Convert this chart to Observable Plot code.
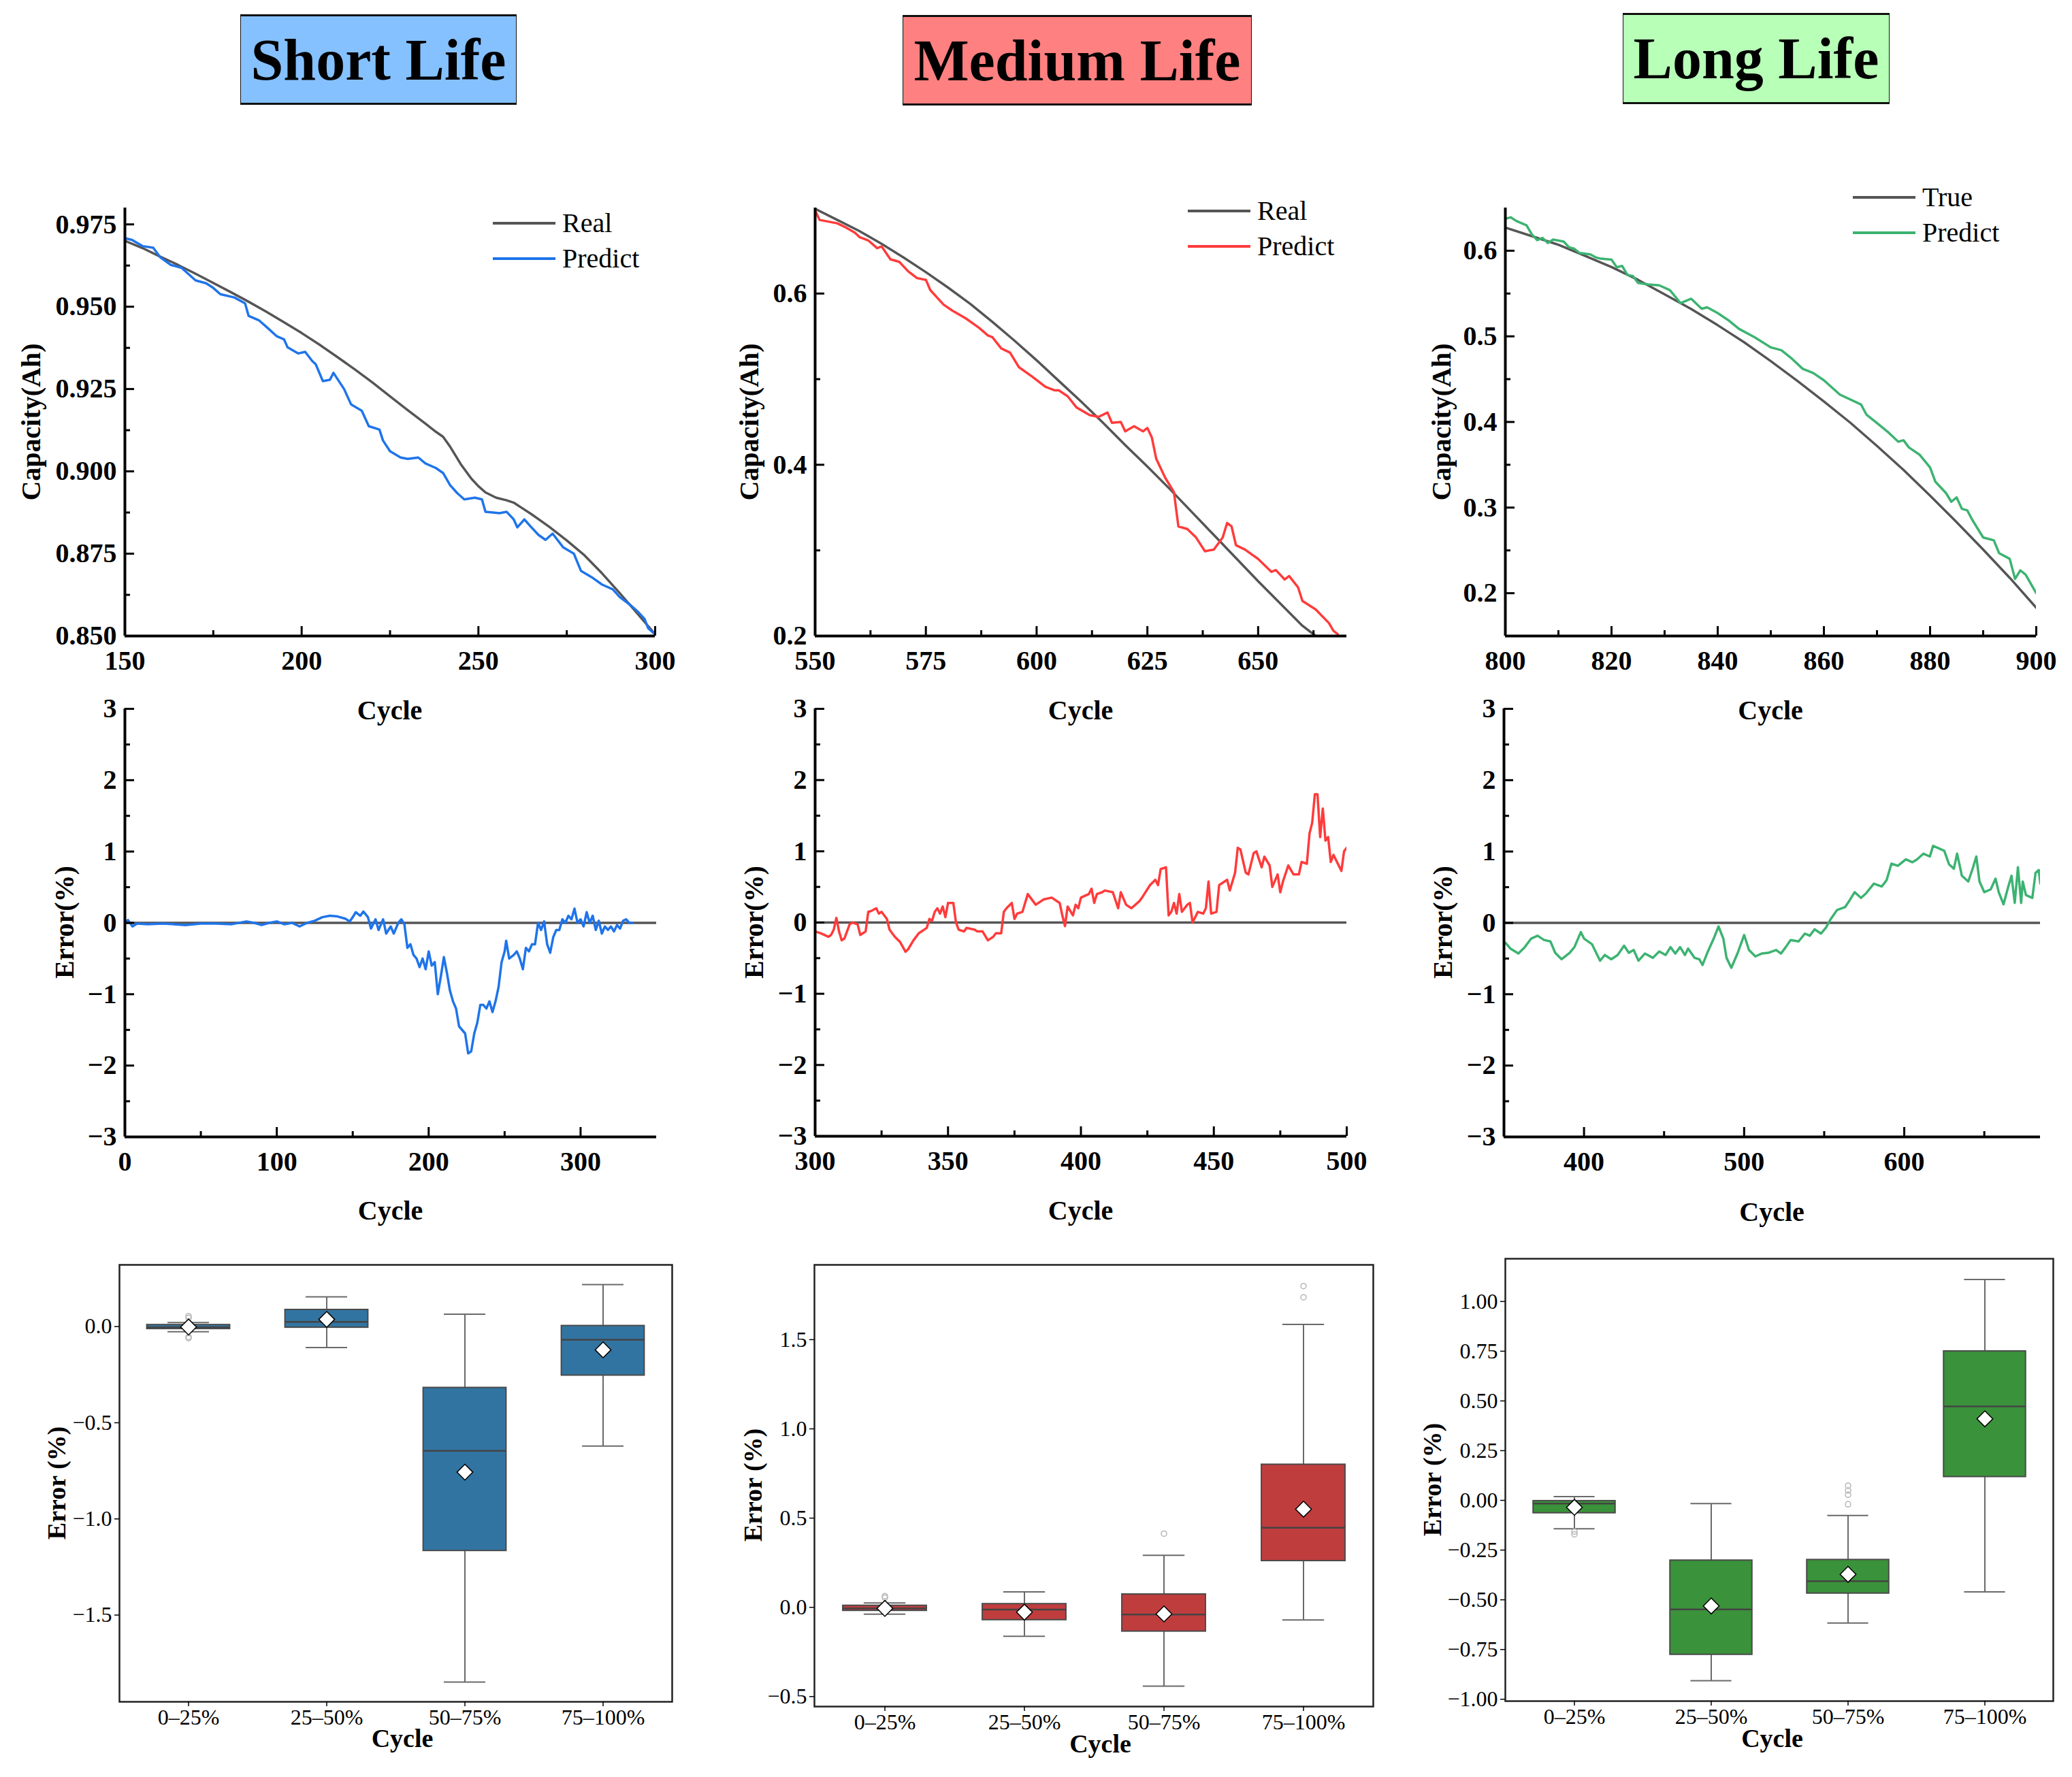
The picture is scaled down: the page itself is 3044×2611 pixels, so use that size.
<!DOCTYPE html>
<html>
<head>
<meta charset="utf-8">
<script src="https://cdn.jsdelivr.net/npm/d3@7"></script>
<script src="https://cdn.jsdelivr.net/npm/@observablehq/plot@0.6"></script>
<style>
  body { margin: 0; background: #fff; }
  #fig { position: relative; width: 3044px; height: 2611px; background: #fff; overflow: hidden;
         font-family: "Liberation Serif", "Times New Roman", serif; color: #000; }
  #fig svg { position: absolute; overflow: visible; }
  .title { position: absolute; box-sizing: border-box; border: 1.5px solid #111; border-top-width: 3px; border-bottom-width: 3px;
           display: flex; align-items: center; justify-content: center; font-weight: bold; font-size: 86px; }
  .lab { position: absolute; white-space: nowrap; transform: translate(-50%, -50%); font-weight: bold; font-size: 40px; line-height: 1; }
  .rot { transform: translate(-50%, -50%) rotate(-90deg); }
  .leg { position: absolute; display: flex; align-items: center; font-size: 40px; line-height: 1; transform: translateY(-50%); }
  .leg span.sw { display: inline-block; width: 92px; height: 4px; margin-right: 10px; }
</style>
</head>
<body>
<div id="fig"></div>
<script>
// ---------- Capacity curves ----------
const shortRealCycle = [150,155,160,165,170,175,180,185,190,195,200,205,210,215,220,225,230,235,238,240,242,245,248,250,252,255,258,260,265,270,275,280,285,290,295,300];
const shortRealCap = [0.9700,0.9678,0.9652,0.9627,0.9600,0.9572,0.9544,0.9515,0.9485,0.9453,0.9420,0.9385,0.9348,0.9310,0.9270,0.9228,0.9186,0.9145,0.9120,0.9105,0.9075,0.9022,0.8978,0.8955,0.8936,0.8920,0.8912,0.8905,0.8870,0.8832,0.8790,0.8745,0.8690,0.8630,0.8568,0.8505];
const shortPredCycle = [150,152,155,158,160,163,166,170,173,175,177,181,184,185,188,190,193,195,196,199,201,203,204,206,208,209,212,214,217,219,222,223,225,228,230,233,235,238,240,242,244,246,249,251,252,256,258,260,261,263,265,267,269,271,274,277,279,282,285,288,290,293,295,297,298,300];
const shortPredCap = [0.9708,0.9703,0.9684,0.9679,0.9650,0.9627,0.9618,0.9580,0.9571,0.9557,0.9538,0.9528,0.9510,0.9472,0.9458,0.9439,0.9410,0.9401,0.9377,0.9358,0.9363,0.9335,0.9325,0.9274,0.9278,0.9299,0.9250,0.9203,0.9184,0.9137,0.9127,0.9094,0.9061,0.9042,0.9038,0.9042,0.9024,0.9010,0.8995,0.8958,0.8934,0.8915,0.8920,0.8915,0.8877,0.8873,0.8877,0.8854,0.8830,0.8854,0.8830,0.8807,0.8792,0.8811,0.8769,0.8750,0.8698,0.8679,0.8656,0.8642,0.8618,0.8594,0.8575,0.8552,0.8524,0.8505];

const mediumRealCycle = [550,555,560,565,570,575,580,585,590,595,600,605,610,615,620,625,630,635,640,645,650,655,660,663];
const mediumRealCap = [0.699,0.686,0.673,0.658,0.642,0.625,0.607,0.588,0.567,0.545,0.522,0.498,0.474,0.449,0.423,0.398,0.372,0.345,0.318,0.291,0.264,0.238,0.212,0.200];
const mediumPredCycle = [550,551,555,557,559,560,562,564,565,567,569,571,573,575,576,579,581,584,587,589,590,592,594,596,599,602,604,605,607,609,612,614,616,617,619,620,622,624,625,626,627,629,631,632,634,636,638,640,642,643,644,645,647,650,653,654,656,657,659,660,663,666,667,668];
const mediumPredCap = [0.697,0.686,0.682,0.677,0.671,0.666,0.662,0.653,0.655,0.640,0.637,0.626,0.618,0.616,0.604,0.587,0.580,0.571,0.560,0.551,0.549,0.536,0.531,0.514,0.503,0.491,0.487,0.487,0.480,0.467,0.458,0.456,0.461,0.449,0.450,0.439,0.445,0.439,0.443,0.432,0.407,0.385,0.368,0.328,0.325,0.315,0.299,0.301,0.315,0.332,0.328,0.306,0.301,0.290,0.275,0.277,0.266,0.270,0.257,0.241,0.231,0.215,0.206,0.202];

const longTrueCycle = [800,805,810,815,820,825,830,835,840,845,850,855,860,865,870,875,880,885,890,895,900];
const longTrueCap = [0.627,0.617,0.607,0.594,0.581,0.566,0.549,0.532,0.513,0.493,0.471,0.448,0.424,0.399,0.372,0.344,0.314,0.283,0.251,0.218,0.183];
const longPredCycle = [800,801,802,804,805,806,807,808,809,811,812,813,814,816,817,818,820,821,822,823,824,825,827,829,831,833,835,837,838,840,842,844,847,850,852,854,856,858,860,863,867,868,870,872,874,875,876,878,880,881,883,884,885,886,887,888,890,892,893,895,896,897,898,900];
const longPredCap = [0.6374,0.6390,0.6350,0.6297,0.6190,0.6124,0.6150,0.6090,0.6130,0.6107,0.6040,0.6023,0.5973,0.5957,0.5923,0.5907,0.5896,0.5806,0.5823,0.5716,0.5706,0.5623,0.5606,0.5596,0.5539,0.5389,0.5439,0.5322,0.5339,0.5272,0.5189,0.5088,0.4988,0.4871,0.4838,0.4738,0.4621,0.4571,0.4487,0.4320,0.4204,0.4087,0.3987,0.3886,0.3770,0.3786,0.3703,0.3619,0.3469,0.3302,0.3169,0.3068,0.3118,0.2985,0.2968,0.2851,0.2651,0.2618,0.2468,0.2401,0.2167,0.2267,0.2217,0.2000];

// ---------- Relative error curves (%) ----------
const shortErrCycle = [0,2,5,8,15,25,40,50,60,70,80,85,90,95,100,105,110,115,120,125,130,135,140,145,148,150,152,155,157,160,162,165,167,170,172,175,177,180,182,184,186,188,190,192,194,196,198,200,202,204,206,208,210,212,214,216,218,220,222,224,226,228,230,232,234,236,238,240,242,244,246,248,250,251,253,256,258,260,262,264,266,268,270,272,274,276,278,280,282,284,286,288,290,292,294,296,298,300,302,304,306,308,310,312,314,316,318,320,322,324,326,328,330,332,334];
const shortErr = [0.00,0.04,-0.05,-0.01,-0.02,-0.01,-0.03,-0.01,-0.01,-0.02,0.02,0.00,-0.03,0.00,0.02,-0.02,0.00,-0.05,0.00,0.03,0.08,0.10,0.09,0.06,0.02,0.08,0.15,0.10,0.16,0.08,-0.08,0.05,-0.10,0.05,-0.15,-0.05,-0.15,0.00,0.05,-0.02,-0.35,-0.30,-0.45,-0.50,-0.62,-0.50,-0.65,-0.40,-0.60,-0.55,-1.00,-0.75,-0.48,-0.70,-0.95,-1.10,-1.20,-1.45,-1.50,-1.55,-1.83,-1.80,-1.55,-1.40,-1.15,-1.15,-1.20,-1.10,-1.25,-1.10,-0.90,-0.55,-0.40,-0.25,-0.50,-0.45,-0.40,-0.50,-0.65,-0.35,-0.40,-0.30,-0.30,0.00,-0.10,0.02,-0.30,-0.42,-0.20,-0.10,-0.10,0.05,0.00,0.10,0.05,0.20,0.00,0.05,-0.05,0.15,0.00,0.10,-0.10,0.03,-0.15,-0.05,-0.10,-0.05,-0.12,-0.03,-0.08,0.03,0.05,0.00,0.00];

const mediumErrCycle = [300,302,305,306,307,308,309,310,311,313,314,316,317,319,320,321,323,324,325,327,328,330,332,334,335,337,339,342,343,344,345,346,347,348,349,350,352,353,354,356,357,360,361,363,365,367,368,370,371,372,374,375,376,378,380,382,383,386,389,392,393,394,395,397,398,399,400,403,404,405,406,408,409,412,414,415,417,419,422,423,426,428,429,430,432,433,434,435,436,437,438,440,441,442,444,446,447,448,449,451,452,455,456,458,459,460,462,463,465,466,468,469,471,472,474,475,476,478,480,482,483,485,486,487,488,489,490,491,492,493,494,495,497,498,499,500];
const mediumErr = [-0.125,-0.15,-0.2,-0.175,-0.1,0.065,-0.125,-0.25,-0.225,-0.025,0,-0.025,-0.175,-0.125,0.15,0.16,0.2,0.125,0.15,0.05,-0.1,-0.2,-0.275,-0.41,-0.375,-0.25,-0.15,-0.075,0.05,0.025,0.15,0.2,0.125,0.225,0.075,0.275,0.275,0,-0.1,-0.125,-0.075,-0.1,-0.125,-0.125,-0.25,-0.2,-0.15,-0.15,0.15,0.2,0.275,0.05,0.125,0.15,0.4,0.3,0.25,0.325,0.35,0.275,0.1,-0.05,0.225,0.1,0.25,0.2,0.35,0.4,0.475,0.275,0.4,0.425,0.45,0.425,0.2,0.425,0.25,0.2,0.3,0.35,0.525,0.6,0.525,0.75,0.775,0.1,0.15,0.275,0.125,0.4,0.15,0.25,0.275,0,0.15,0.125,0.2,0.575,0.125,0.15,0.525,0.6,0.45,0.7,1.05,1.025,0.7,0.675,0.975,1.0,0.775,0.925,0.8,0.5,0.675,0.425,0.575,0.8,0.675,0.675,0.85,0.825,1.25,1.4,1.8,1.8,1.2,1.6,1.15,1.2,0.85,0.95,0.8,0.725,1.0,1.05];

const longErrCycle = [351,354,359,363,367,371,375,379,382,386,391,394,398,400,405,410,413,417,421,425,428,431,434,438,443,447,451,454,457,460,463,465,469,472,474,477,481,484,487,489,492,496,500,503,507,511,515,520,523,526,529,534,538,541,544,548,551,554,558,563,566,569,573,576,581,586,589,592,596,601,605,608,612,616,618,621,625,628,631,633,636,640,643,645,647,650,654,657,659,662,665,667,669,671,673,674,676,680,682,684,685];
const longErr = [-0.28,-0.36,-0.43,-0.34,-0.22,-0.18,-0.24,-0.26,-0.42,-0.51,-0.42,-0.34,-0.13,-0.22,-0.3,-0.53,-0.45,-0.51,-0.45,-0.32,-0.42,-0.38,-0.53,-0.43,-0.49,-0.4,-0.45,-0.34,-0.43,-0.34,-0.45,-0.36,-0.49,-0.51,-0.59,-0.42,-0.22,-0.05,-0.22,-0.49,-0.63,-0.42,-0.17,-0.38,-0.47,-0.43,-0.42,-0.38,-0.43,-0.34,-0.24,-0.26,-0.15,-0.18,-0.09,-0.15,-0.07,0.05,0.18,0.22,0.32,0.43,0.35,0.41,0.55,0.51,0.6,0.83,0.8,0.89,0.85,0.89,0.97,0.93,1.08,1.05,1.01,0.82,0.76,0.97,0.66,0.58,0.78,0.93,0.58,0.43,0.47,0.62,0.43,0.26,0.51,0.66,0.28,0.78,0.28,0.58,0.39,0.35,0.7,0.74,0.55];

// ---------- Error distribution by life stage (box summaries, %) ----------
const stages = ["0–25%", "25–50%", "50–75%", "75–100%"];

const shortQ1 = [-0.012, -0.005, -1.166, -0.254];
const shortQ3 = [0.009, 0.0875, -0.318, 0.004];
const shortMedian = [-0.004, 0.025, -0.646, -0.068];
const shortLow = [-0.027, -0.109, -1.848, -0.621];
const shortHigh = [0.021, 0.155, 0.064, 0.218];
const shortMean = [-0.002, 0.0375, -0.757, -0.121];
const shortOutStage = [0, 0, 0, 0];
const shortOutValue = [0.054, 0.045, -0.054, -0.060];

const mediumQ1 = [-0.019, -0.071, -0.135, 0.26];
const mediumQ3 = [0.0096, 0.019, 0.073, 0.80];
const mediumMedian = [-0.006, -0.013, -0.04, 0.446];
const mediumLow = [-0.038, -0.162, -0.442, -0.071];
const mediumHigh = [0.025, 0.087, 0.292, 1.585];
const mediumMean = [-0.006, -0.027, -0.037, 0.55];
const mediumOutStage = [0, 0, 2, 3, 3];
const mediumOutValue = [0.054, 0.063, 0.413, 1.80, 1.737];

const longQ1 = [-0.064, -0.776, -0.468, 0.118];
const longQ3 = [-0.003, -0.302, -0.299, 0.75];
const longMedian = [-0.016, -0.548, -0.406, 0.472];
const longLow = [-0.143, -0.907, -0.617, -0.46];
const longHigh = [0.019, -0.016, -0.076, 1.111];
const longMean = [-0.035, -0.531, -0.372, 0.41];
const longOutStage = [0, 0, 2, 2, 2, 2];
const longOutValue = [-0.157, -0.171, 0.074, 0.05, 0.028, -0.02];

// ---------- Tick values ----------
const shortCapXTicks = [150, 200, 250, 300], shortCapXMinor = [175, 225, 275];
const shortCapYTicks = [0.85, 0.875, 0.9, 0.925, 0.95, 0.975], shortCapYMinor = [0.8625, 0.8875, 0.9125, 0.9375, 0.9625];
const mediumCapXTicks = [550, 575, 600, 625, 650], mediumCapXMinor = [562.5, 587.5, 612.5, 637.5, 662.5];
const mediumCapYTicks = [0.2, 0.4, 0.6], mediumCapYMinor = [0.3, 0.5];
const longCapXTicks = [800, 820, 840, 860, 880, 900], longCapXMinor = [810, 830, 850, 870, 890];
const longCapYTicks = [0.2, 0.3, 0.4, 0.5, 0.6], longCapYMinor = [0.25, 0.35, 0.45, 0.55];
const errYTicks = [-3, -2, -1, 0, 1, 2, 3], errYMinor = [-2.5, -1.5, -0.5, 0.5, 1.5, 2.5];
const shortErrXTicks = [0, 100, 200, 300], shortErrXMinor = [50, 150, 250];
const mediumErrXTicks = [300, 350, 400, 450, 500], mediumErrXMinor = [325, 375, 425, 475];
const longErrXTicks = [400, 500, 600], longErrXMinor = [350, 450, 550, 650];
const shortBoxYTicks = [-1.5, -1.0, -0.5, 0.0];
const mediumBoxYTicks = [-0.5, 0.0, 0.5, 1.0, 1.5];
const longBoxYTicks = [-1.0, -0.75, -0.5, -0.25, 0.0, 0.25, 0.5, 0.75, 1.0];

// ---------- Colours ----------
const GRAY = "#555555";
const BLUE = "#1f74ea", RED = "#ff3b3b", GREEN = "#3cb371";
const BOX_BLUE = "#3274a1", BOX_RED = "#c03d3e", BOX_GREEN = "#3a923a";

const fig = document.getElementById("fig");
const FONT = "Liberation Serif, Times New Roman, serif";
const pts = (xs, ys) => xs.map((x, i) => ({x, y: ys[i]}));

function addText(text, cx, cy, {rotate = false, size = 40, bold = true} = {}) {
  const d = document.createElement("div");
  d.className = "lab" + (rotate ? " rot" : "");
  d.textContent = text;
  d.style.left = cx + "px";
  d.style.top = cy + "px";
  d.style.fontSize = size + "px";
  d.style.fontWeight = bold ? "bold" : "normal";
  fig.appendChild(d);
}

function addTitle(text, x0, x1, y0, y1, bg) {
  const d = document.createElement("div");
  d.className = "title";
  d.textContent = text;
  Object.assign(d.style, {left: x0 + "px", top: y0 + "px", width: (x1 - x0) + "px", height: (y1 - y0) + "px", background: bg});
  fig.appendChild(d);
}

function addLegend(x, y, entries) {
  entries.forEach(([label, color], i) => {
    const d = document.createElement("div");
    d.className = "leg";
    d.style.left = x + "px";
    d.style.top = (y + i * 52) + "px";
    const sw = document.createElement("span");
    sw.className = "sw";
    sw.style.background = color;
    d.appendChild(sw);
    d.appendChild(document.createTextNode(label));
    fig.appendChild(d);
  });
}

function mount(svg, f, m) {
  svg.style.left = (f.x0 - m) + "px";
  svg.style.top = (f.y0 - m) + "px";
  fig.appendChild(svg);
}

// Line panel with left/bottom axis lines and inward ticks
function linePanel(f, o) {
  const m = 6;
  const iw = f.x1 - f.x0, ih = f.y1 - f.y0;
  const marks = [];
  if (o.zero) marks.push(Plot.ruleY([0], {stroke: GRAY, strokeWidth: 3.5}));
  for (const s of o.series) {
    marks.push(Plot.line(s.data, {x: "x", y: "y", stroke: s.color, strokeWidth: 3.5, clip: true}));
  }
  marks.push(
    Plot.ruleX([o.xDomain[0]], {stroke: "#000", strokeWidth: 4}),
    Plot.ruleY([o.yDomain[0]], {stroke: "#000", strokeWidth: 4}),
    Plot.tickX(o.xTicks, {x: d => d, insetTop: ih - 14, stroke: "#000", strokeWidth: 3}),
    Plot.tickX(o.xMinor, {x: d => d, insetTop: ih - 8, stroke: "#000", strokeWidth: 3}),
    Plot.tickY(o.yTicks, {y: d => d, insetRight: iw - 14, stroke: "#000", strokeWidth: 3}),
    Plot.tickY(o.yMinor, {y: d => d, insetRight: iw - 8, stroke: "#000", strokeWidth: 3}),
    Plot.axisX(o.xTicks, {tickSize: 0, tickPadding: 21, fontSize: 40, fontWeight: "bold", label: null, tickFormat: d => String(d)}),
    Plot.axisY(o.yTicks, {tickSize: 0, tickPadding: 12, fontSize: 40, fontWeight: "bold", label: null, tickFormat: o.yFormat})
  );
  const svg = Plot.plot({
    width: iw + 2 * m, height: ih + 2 * m,
    marginTop: m, marginRight: m, marginBottom: m, marginLeft: m,
    x: {domain: o.xDomain}, y: {domain: o.yDomain},
    style: {fontFamily: FONT, background: "transparent", color: "#000", overflow: "visible"},
    marks
  });
  mount(svg, f, m);
}

// Box panel drawn from summary statistics
function boxPanel(f, o) {
  const m = 6;
  const iw = f.x1 - f.x0, ih = f.y1 - f.y0;
  const bw = iw / stages.length;
  const boxInset = bw * 0.2, capInset = bw * 0.35;
  const rows = stages.map((s, i) => ({stage: s, q1: o.q1[i], q3: o.q3[i], med: o.med[i], lo: o.lo[i], hi: o.hi[i], mean: o.mean[i]}));
  const outs = o.outStage.map((k, i) => ({stage: stages[k], v: o.outValue[i]}));
  const lineColor = "#6a6a6a";
  const svg = Plot.plot({
    width: iw + 2 * m, height: ih + 2 * m,
    marginTop: m, marginRight: m, marginBottom: m, marginLeft: m,
    x: {type: "band", domain: stages, padding: 0},
    y: {domain: o.yDomain},
    style: {fontFamily: FONT, background: "transparent", color: "#000", overflow: "visible"},
    marks: [
      Plot.ruleX(rows, {x: "stage", y1: "lo", y2: "hi", stroke: lineColor, strokeWidth: 2}),
      Plot.tickY(rows, {x: "stage", y: "lo", insetLeft: capInset, insetRight: capInset, stroke: lineColor, strokeWidth: 2}),
      Plot.tickY(rows, {x: "stage", y: "hi", insetLeft: capInset, insetRight: capInset, stroke: lineColor, strokeWidth: 2}),
      Plot.barY(rows, {x: "stage", y1: "q1", y2: "q3", fill: o.color, stroke: "#4a4a4a", strokeWidth: 2, insetLeft: boxInset, insetRight: boxInset}),
      Plot.tickY(rows, {x: "stage", y: "med", insetLeft: boxInset, insetRight: boxInset, stroke: "#444", strokeWidth: 2.5}),
      Plot.dot(outs, {x: "stage", y: "v", r: 4, stroke: "#b5b5b5", fill: "none", strokeWidth: 1.5}),
      Plot.dot(rows, {x: "stage", y: "mean", symbol: "diamond2", r: 10.5, fill: "#fff", stroke: "#000", strokeWidth: 1.5}),
      Plot.frame({stroke: "#222", strokeWidth: 2.5}),
      Plot.axisX({tickSize: 7, tickPadding: 4, fontSize: 32, label: null, strokeWidth: 1.5}),
      Plot.axisY(o.yTicks, {tickSize: 7, tickPadding: 4, fontSize: 32, label: null, tickFormat: o.yFormat, strokeWidth: 1.5})
    ]
  });
  mount(svg, f, m);
}

// ---------- Headers ----------
addTitle("Short Life", 353, 759, 21, 154, "#85c1ff");
addTitle("Medium Life", 1326, 1839, 22, 155, "#ff8080");
addTitle("Long Life", 2384, 2776, 19, 153, "#b8ffb8");

// ---------- Row 1: capacity ----------
const fTL = {x0: 183, x1: 962, y0: 305, y1: 934};
const fTM = {x0: 1197, x1: 1978, y0: 305, y1: 934};
const fTR = {x0: 2211, x1: 2991, y0: 305, y1: 934};

linePanel(fTL, {xDomain: [150, 300], yDomain: [0.85, 0.98], xTicks: shortCapXTicks, xMinor: shortCapXMinor,
  yTicks: shortCapYTicks, yMinor: shortCapYMinor, yFormat: d3.format(".3f"),
  series: [{data: pts(shortRealCycle, shortRealCap), color: GRAY}, {data: pts(shortPredCycle, shortPredCap), color: BLUE}]});
linePanel(fTM, {xDomain: [550, 670], yDomain: [0.2, 0.7], xTicks: mediumCapXTicks, xMinor: mediumCapXMinor,
  yTicks: mediumCapYTicks, yMinor: mediumCapYMinor, yFormat: d3.format(".1f"),
  series: [{data: pts(mediumRealCycle, mediumRealCap), color: GRAY}, {data: pts(mediumPredCycle, mediumPredCap), color: RED}]});
linePanel(fTR, {xDomain: [800, 900], yDomain: [0.15, 0.65], xTicks: longCapXTicks, xMinor: longCapXMinor,
  yTicks: longCapYTicks, yMinor: longCapYMinor, yFormat: d3.format(".1f"),
  series: [{data: pts(longTrueCycle, longTrueCap), color: GRAY}, {data: pts(longPredCycle, longPredCap), color: GREEN}]});

addLegend(724, 328, [["Real", GRAY], ["Predict", BLUE]]);
addLegend(1745, 310, [["Real", GRAY], ["Predict", RED]]);
addLegend(2722, 290, [["True", GRAY], ["Predict", GREEN]]);

addText("Capacity(Ah)", 46, 620, {rotate: true});
addText("Capacity(Ah)", 1101, 620, {rotate: true});
addText("Capacity(Ah)", 2118, 620, {rotate: true});
addText("Cycle", (fTL.x0 + fTL.x1) / 2, 1044);
addText("Cycle", (fTM.x0 + fTM.x1) / 2, 1044);
addText("Cycle", (fTR.x0 + fTR.x1) / 2, 1044);

// ---------- Row 2: error ----------
const fML = {x0: 183, x1: 964, y0: 1041, y1: 1670};
const fMM = {x0: 1197, x1: 1978, y0: 1041, y1: 1669};
const fMR = {x0: 2209, x1: 2997, y0: 1041, y1: 1670};
const intFormat = d3.format("d");

linePanel(fML, {xDomain: [0, 350], yDomain: [-3, 3], xTicks: shortErrXTicks, xMinor: shortErrXMinor,
  yTicks: errYTicks, yMinor: errYMinor, yFormat: intFormat, zero: true, series: [{data: pts(shortErrCycle, shortErr), color: BLUE}]});
linePanel(fMM, {xDomain: [300, 500], yDomain: [-3, 3], xTicks: mediumErrXTicks, xMinor: mediumErrXMinor,
  yTicks: errYTicks, yMinor: errYMinor, yFormat: intFormat, zero: true, series: [{data: pts(mediumErrCycle, mediumErr), color: RED}]});
linePanel(fMR, {xDomain: [350, 685], yDomain: [-3, 3], xTicks: longErrXTicks, xMinor: longErrXMinor,
  yTicks: errYTicks, yMinor: errYMinor, yFormat: intFormat, zero: true, series: [{data: pts(longErrCycle, longErr), color: GREEN}]});

addText("Error(%)", 95, 1355, {rotate: true});
addText("Error(%)", 1108, 1355, {rotate: true});
addText("Error(%)", 2120, 1355, {rotate: true});
addText("Cycle", (fML.x0 + fML.x1) / 2, 1779);
addText("Cycle", (fMM.x0 + fMM.x1) / 2, 1779);
addText("Cycle", (fMR.x0 + fMR.x1) / 2, 1781);

// ---------- Row 3: error distribution ----------
const fBL = {x0: 175, x1: 987, y0: 1858, y1: 2500};
const fBM = {x0: 1196, x1: 2017, y0: 1858, y1: 2507};
const fBR = {x0: 2211, x1: 3016, y0: 1849, y1: 2499};

boxPanel(fBL, {yDomain: [-1.951, 0.321], yTicks: shortBoxYTicks, yFormat: d3.format(".1f"), color: BOX_BLUE,
  q1: shortQ1, q3: shortQ3, med: shortMedian, lo: shortLow, hi: shortHigh, mean: shortMean, outStage: shortOutStage, outValue: shortOutValue});
boxPanel(fBM, {yDomain: [-0.556, 1.919], yTicks: mediumBoxYTicks, yFormat: d3.format(".1f"), color: BOX_RED,
  q1: mediumQ1, q3: mediumQ3, med: mediumMedian, lo: mediumLow, hi: mediumHigh, mean: mediumMean, outStage: mediumOutStage, outValue: mediumOutValue});
boxPanel(fBR, {yDomain: [-1.0095, 1.215], yTicks: longBoxYTicks, yFormat: d3.format(".2f"), color: BOX_GREEN,
  q1: longQ1, q3: longQ3, med: longMedian, lo: longLow, hi: longHigh, mean: longMean, outStage: longOutStage, outValue: longOutValue});

addText("Error (%)", 83, 2179, {rotate: true, size: 38});
addText("Error (%)", 1106, 2182, {rotate: true, size: 38});
addText("Error (%)", 2104, 2174, {rotate: true, size: 38});
addText("Cycle", (fBL.x0 + fBL.x1) / 2 + 10, 2554, {size: 38});
addText("Cycle", (fBM.x0 + fBM.x1) / 2 + 10, 2562, {size: 38});
addText("Cycle", (fBR.x0 + fBR.x1) / 2 - 10, 2554, {size: 38});
</script>
</body>
</html>
